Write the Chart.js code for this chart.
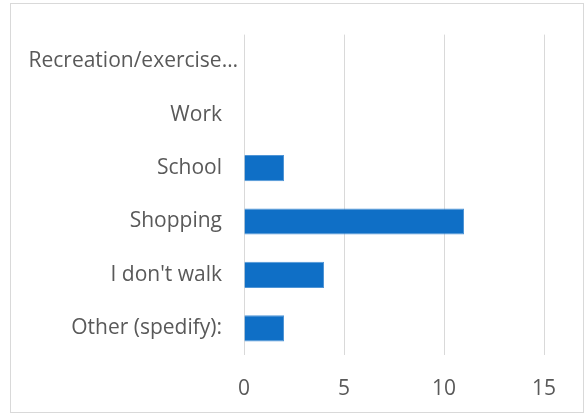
<!DOCTYPE html>
<html><head><meta charset="utf-8">
<script src="https://cdn.jsdelivr.net/npm/chart.js@4/dist/chart.umd.min.js"></script>
<style>html,body{margin:0;padding:0;background:#fff;}#wrap{width:588px;height:416px;position:relative;}</style>
</head><body><div id="wrap"><canvas id="c" width="588" height="416"></canvas></div>
<script>
const categories = ["Recreation/exercise…", "Work", "School", "Shopping", "I don't walk", "Other (spedify):"];
const values = [0, 0, 2, 11, 4, 2];
const xTicks = [0, 5, 10, 15];

const frame = {
  id: 'frame',
  beforeDraw(chart) {
    const ctx = chart.ctx;
    ctx.save();
    ctx.fillStyle = '#fff';
    ctx.fillRect(0, 0, chart.width, chart.height);
    ctx.strokeStyle = '#d9d9d9';
    ctx.lineWidth = 1;
    ctx.strokeRect(10.5, 3.5, 573, 409);
    ctx.restore();
    // the truncated first label sits a bit further right, as in the source
    const items = chart.scales.y.getLabelItems();
    if (items && items[0] && !items[0]._shifted) {
      items[0].options.translation[0] += 16;
      items[0]._shifted = true;
    }
  }
};

new Chart(document.getElementById('c'), {
  type: 'bar',
  data: {
    labels: categories,
    datasets: [{
      data: values,
      backgroundColor: '#0f6fc6',
      borderColor: '#4f95d6',
      borderWidth: 1,
      categoryPercentage: 1,
      barPercentage: 0.49
    }]
  },
  options: {
    indexAxis: 'y',
    responsive: false,
    animation: false,
    layout: { padding: { left: 0, right: 44, top: 33, bottom: 0 } },
    plugins: { legend: { display: false }, tooltip: { enabled: false } },
    scales: {
      x: {
        min: 0, max: 15,
        afterBuildTicks(s) { s.ticks = xTicks.map(v => ({ value: v })); },
        afterFit(s) { s.height = 61; },
        grid: { color: '#d9d9d9', lineWidth: 1, drawTicks: false },
        border: { display: false },
        ticks: { color: '#595959', padding: 21, font: { family: 'Open Sans', size: 21 } }
      },
      y: {
        afterFit(s) { s.width = 244; },
        grid: { display: false, drawTicks: false },
        border: { display: false },
        ticks: { color: '#595959', padding: 22, font: { family: 'Open Sans', size: 21 } }
      }
    }
  },
  plugins: [frame]
});
</script></body></html>
